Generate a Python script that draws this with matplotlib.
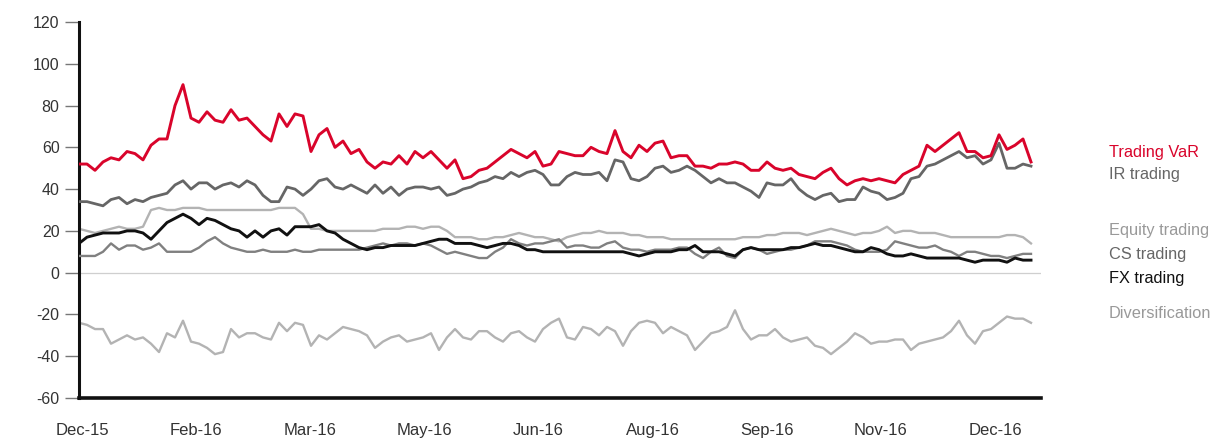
import numpy as np
import matplotlib
matplotlib.use("Agg")
import matplotlib.pyplot as plt

plt.rcParams['font.family'] = ['Liberation Sans', 'DejaVu Sans']
plt.rcParams['axes.unicode_minus'] = False

month_labels = ["Dec-15", "Feb-16", "Mar-16", "May-16", "Jun-16", "Aug-16", "Sep-16", "Nov-16", "Dec-16"]

trading_var = [52, 52, 49, 53, 55, 54, 58, 57, 54, 61, 64, 64, 80, 90, 74, 72, 77, 73, 72, 78,
               73, 74, 70, 66, 63, 76, 70, 76, 75, 58, 66, 69, 60, 63, 57, 59, 53, 50, 53, 52,
               56, 52, 58, 55, 58, 54, 50, 54, 45, 46, 49, 50, 53, 56, 59, 57, 55, 58, 51, 52,
               58, 57, 56, 56, 60, 58, 57, 68, 58, 55, 61, 58, 62, 63, 55, 56, 56, 51, 51, 50,
               52, 52, 53, 52, 49, 49, 53, 50, 49, 50, 47, 46, 45, 48, 50, 45, 42, 44, 45, 44,
               45, 44, 43, 47, 49, 51, 61, 58, 61, 64, 67, 58, 58, 55, 56, 66, 59, 61, 64, 53]

ir_trading = [34, 34, 33, 32, 35, 36, 33, 35, 34, 36, 37, 38, 42, 44, 40, 43, 43, 40, 42, 43,
              41, 44, 42, 37, 34, 34, 41, 40, 37, 40, 44, 45, 41, 40, 42, 40, 38, 42, 38, 41,
              37, 40, 41, 41, 40, 41, 37, 38, 40, 41, 43, 44, 46, 45, 48, 46, 48, 49, 47, 42,
              42, 46, 48, 47, 47, 48, 44, 54, 53, 45, 44, 46, 50, 51, 48, 49, 51, 49, 46, 43,
              45, 43, 43, 41, 39, 36, 43, 42, 42, 45, 40, 37, 35, 37, 38, 34, 35, 35, 41, 39,
              38, 35, 36, 38, 45, 46, 51, 52, 54, 56, 58, 55, 56, 52, 54, 62, 50, 50, 52, 51]

equity_trading = [21, 20, 19, 20, 21, 22, 21, 21, 22, 30, 31, 30, 30, 31, 31, 31, 30, 30, 30, 30,
                  30, 30, 30, 30, 30, 31, 31, 31, 28, 21, 21, 20, 20, 20, 20, 20, 20, 20, 21, 21,
                  21, 22, 22, 21, 22, 22, 20, 17, 17, 17, 16, 16, 17, 17, 18, 19, 18, 17, 17, 16,
                  15, 17, 18, 19, 19, 20, 19, 19, 19, 18, 18, 17, 17, 17, 16, 16, 16, 16, 16, 16,
                  16, 16, 16, 17, 17, 17, 18, 18, 19, 19, 19, 18, 19, 20, 21, 20, 19, 18, 19, 19,
                  20, 22, 19, 20, 20, 19, 19, 19, 18, 17, 17, 17, 17, 17, 17, 17, 18, 18, 17, 14]

cs_trading = [8, 8, 8, 10, 14, 11, 13, 13, 11, 12, 14, 10, 10, 10, 10, 12, 15, 17, 14, 12,
              11, 10, 10, 11, 10, 10, 10, 11, 10, 10, 11, 11, 11, 11, 11, 11, 12, 13, 14, 13,
              14, 14, 13, 14, 13, 11, 9, 10, 9, 8, 7, 7, 10, 12, 16, 14, 13, 14, 14, 15,
              16, 12, 13, 13, 12, 12, 14, 15, 12, 11, 11, 10, 11, 11, 11, 12, 12, 9, 7, 10,
              12, 8, 7, 11, 12, 11, 9, 10, 11, 11, 12, 13, 15, 15, 15, 14, 13, 11, 10, 10,
              10, 11, 15, 14, 13, 12, 12, 13, 11, 10, 8, 10, 10, 9, 8, 8, 7, 8, 9, 9]

fx_trading = [14, 17, 18, 19, 19, 19, 20, 20, 19, 16, 20, 24, 26, 28, 26, 23, 26, 25, 23, 21,
              20, 17, 20, 17, 20, 21, 18, 22, 22, 22, 23, 20, 19, 16, 14, 12, 11, 12, 12, 13,
              13, 13, 13, 14, 15, 16, 16, 14, 14, 14, 13, 12, 13, 14, 14, 13, 11, 11, 10, 10,
              10, 10, 10, 10, 10, 10, 10, 10, 10, 9, 8, 9, 10, 10, 10, 11, 11, 13, 10, 10,
              10, 9, 8, 11, 12, 11, 11, 11, 11, 12, 12, 13, 14, 13, 13, 12, 11, 10, 10, 12,
              11, 9, 8, 8, 9, 8, 7, 7, 7, 7, 7, 6, 5, 6, 6, 6, 5, 7, 6, 6]

diversification = [-24, -25, -27, -27, -34, -32, -30, -32, -31, -34, -38, -29, -31, -23, -33, -34, -36, -39, -38, -27,
                   -31, -29, -29, -31, -32, -24, -28, -24, -25, -35, -30, -32, -29, -26, -27, -28, -30, -36, -33, -31,
                   -30, -33, -32, -31, -29, -37, -31, -27, -31, -32, -28, -28, -31, -33, -29, -28, -31, -33, -27, -24,
                   -22, -31, -32, -26, -27, -30, -26, -28, -35, -28, -24, -23, -24, -29, -26, -28, -30, -37, -33, -29,
                   -28, -26, -18, -27, -32, -30, -30, -27, -31, -33, -32, -31, -35, -36, -39, -36, -33, -29, -31, -34,
                   -33, -33, -32, -32, -37, -34, -33, -32, -31, -28, -23, -30, -34, -28, -27, -24, -21, -22, -22, -24]

series_names = ["Trading VaR", "IR trading", "Equity trading", "CS trading", "FX trading", "Diversification"]

W, H = 1215, 438
fig = plt.figure(figsize=(W / 100, H / 100), dpi=100)
ax = fig.add_axes([79 / W, 1 - 398 / H, (1041 - 79) / W, (398 - 22) / H])

x = np.arange(len(trading_var))

ax.axhline(0, color='#cfcfcf', lw=0.9, zorder=1)
ax.plot(x, diversification, color='#b3b3b3', lw=1.7, zorder=2)
ax.plot(x, equity_trading, color='#b3b3b3', lw=1.7, zorder=2)
ax.plot(x, cs_trading, color='#808080', lw=1.7, zorder=3)
ax.plot(x, fx_trading, color='#111111', lw=2.1, zorder=4)
ax.plot(x, ir_trading, color='#666666', lw=2.0, zorder=5)
ax.plot(x, trading_var, color='#d9042b', lw=2.1, zorder=6)

ax.set_xlim(0, (1041 - 79) / 8)
ax.set_ylim(-60, 120)
ax.set_yticks(np.arange(-60, 121, 20))
ax.set_xticks(np.linspace(0.4, 114.5, len(month_labels)))
ax.set_xticklabels(month_labels)

for s in ['top', 'right']:
    ax.spines[s].set_visible(False)
ax.spines['left'].set_linewidth(2.2)
ax.spines['bottom'].set_linewidth(2.6)
ax.spines['left'].set_color('#111111')
ax.spines['bottom'].set_color('#111111')

ax.tick_params(axis='y', length=10, width=1.0, color='#777777', labelsize=11.5,
               labelcolor='#333333', pad=4)
ax.tick_params(axis='x', length=0, labelsize=12, labelcolor='#333333', pad=18)

legend_colors = ['#d9042b', '#666666', '#999999', '#666666', '#111111', '#999999']
legend_y = [152, 175, 231, 255, 279, 314]
for name, c, yy in zip(series_names, legend_colors, legend_y):
    fig.text(1109 / W, 1 - yy / H, name, color=c, fontsize=11.8, va='center', ha='left')

fig.savefig('out.png', dpi=100, facecolor='white')
